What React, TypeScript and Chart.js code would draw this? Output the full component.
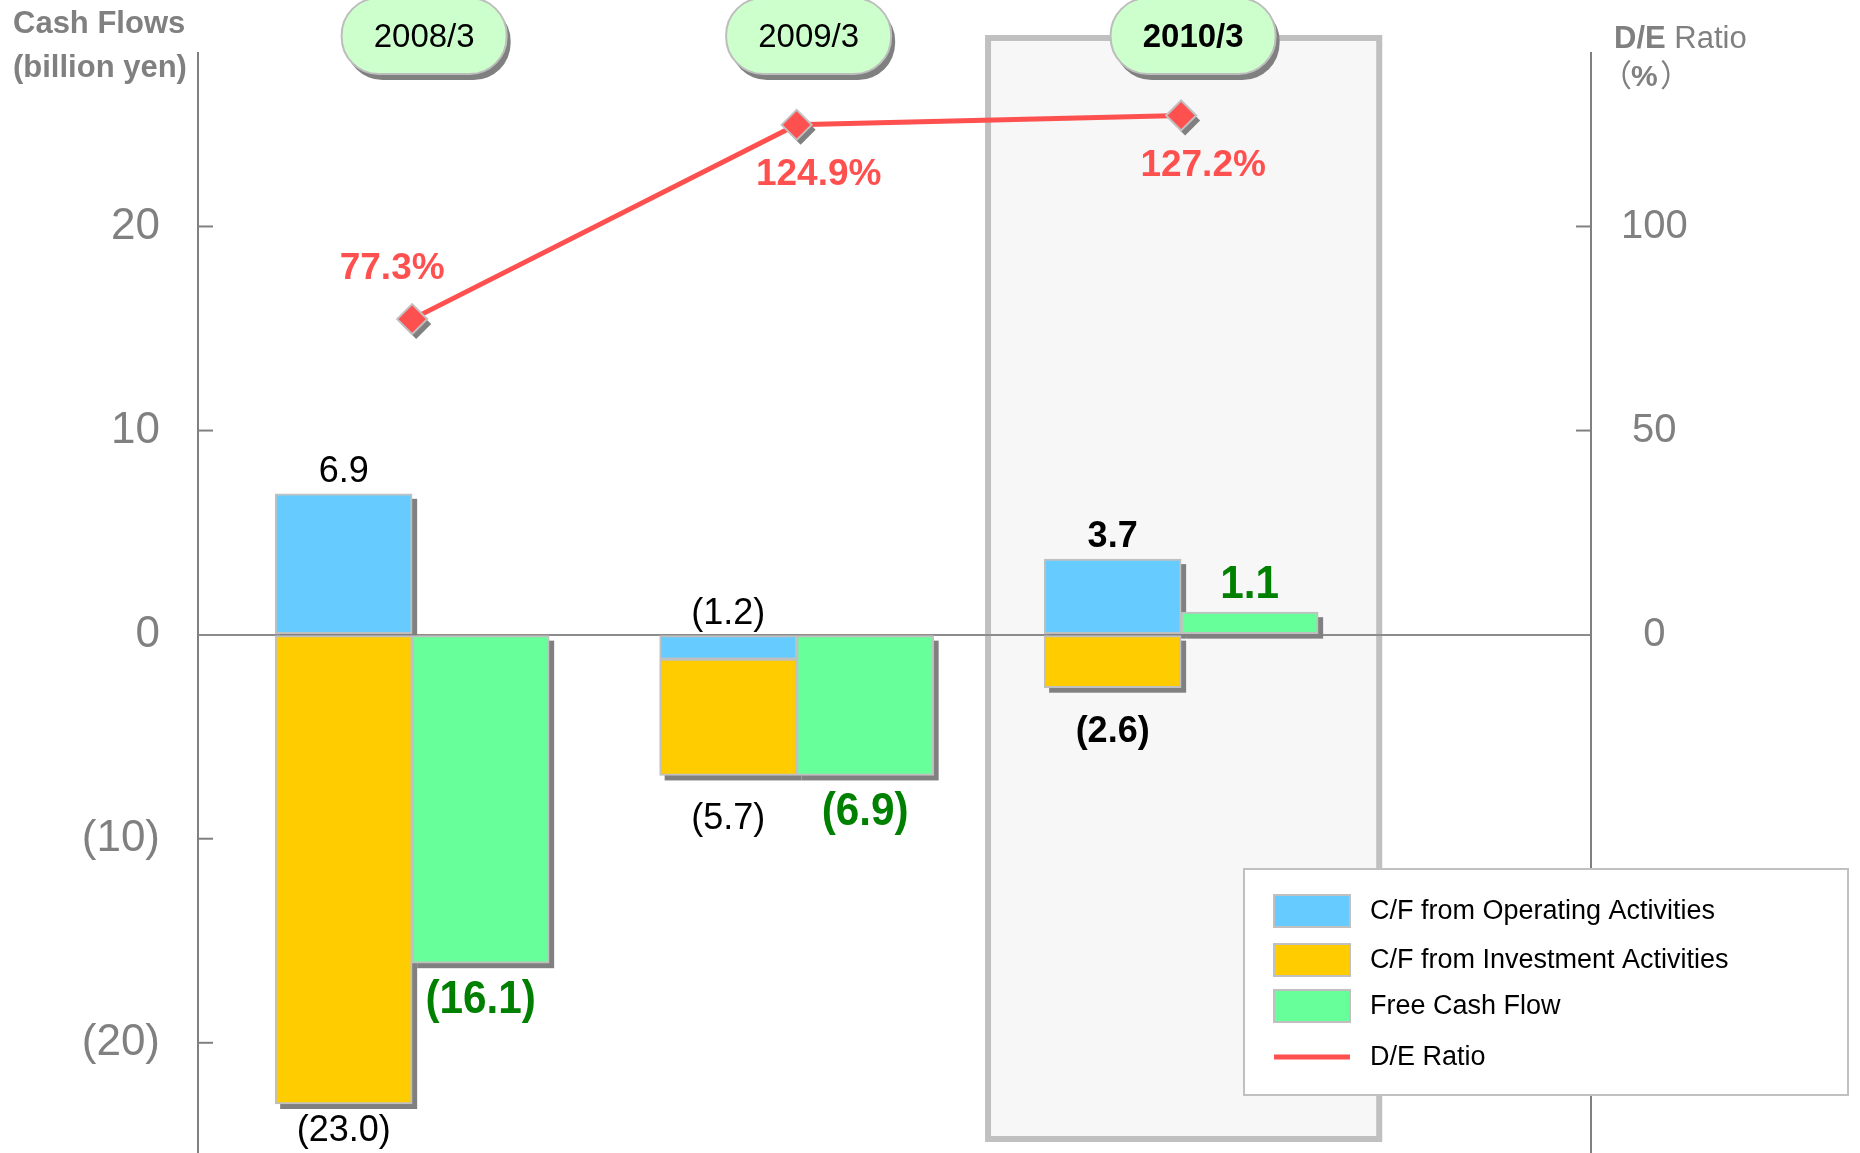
import { useEffect, useRef } from 'react';
import { Chart, registerables } from 'chart.js';

Chart.register(...registerables);

// ---- data -------------------------------------------------------------
const FISCAL_YEARS = ['2008/3', '2009/3', '2010/3'];
const OPERATING_CF = [6.9, -1.2, 3.7];
const INVESTMENT_CF = [-23.0, -5.7, -2.6];
const FREE_CF = [-16.1, -6.9, 1.1];
const DE_RATIO = [77.3, 124.9, 127.2];

const CF_TICKS = [-20, -10, 0, 10, 20];
const DE_TICKS = [0, 50, 100];

const SERIES_NAMES = [
  'C/F from Operating Activities',
  'C/F from Investment Activities',
  'Free Cash Flow',
  'D/E Ratio',
];

// the latest fiscal year is framed and set in bold
const HIGHLIGHT_INDEX = 2;

// ---- layout / style ---------------------------------------------------
const W = 1860;
const H = 1153;
const FONT = "'Liberation Sans', Arial, Helvetica, sans-serif";
const CJK_FONT = "'Noto Sans CJK JP', 'Noto Sans CJK SC', sans-serif";
const GRAY = '#808080';
const LIGHT_GRAY = '#C0C0C0';
const SHADOW = '#808080';
const COLORS = {
  operating: '#66CCFF',
  investment: '#FFCC00',
  free: '#66FF99',
  de: '#FF5050',
  freeText: '#008000',
};

const CF_MIN = -25.4;
const CF_MAX = 28.5;
const DE_MIN = CF_MIN * 5;
const DE_MAX = CF_MAX * 5;
const X_MIN = -0.557;
const X_MAX = 3.066;

const fmtCF = (v: number, digits = 1) =>
  v < 0 ? `(${Math.abs(v).toFixed(digits)})` : v.toFixed(digits);

function diamondPath(ctx: CanvasRenderingContext2D, x: number, y: number, r: number) {
  ctx.beginPath();
  ctx.moveTo(x, y - r);
  ctx.lineTo(x + r, y);
  ctx.lineTo(x, y + r);
  ctx.lineTo(x - r, y);
  ctx.closePath();
}

function pillPath(ctx: CanvasRenderingContext2D, x: number, y: number, w: number, h: number, r: number) {
  ctx.beginPath();
  ctx.moveTo(x + r, y);
  ctx.lineTo(x + w - r, y);
  ctx.arcTo(x + w, y, x + w, y + r, r);
  ctx.lineTo(x + w, y + h - r);
  ctx.arcTo(x + w, y + h, x + w - r, y + h, r);
  ctx.lineTo(x + r, y + h);
  ctx.arcTo(x, y + h, x, y + h - r, r);
  ctx.lineTo(x, y + r);
  ctx.arcTo(x, y, x + r, y, r);
  ctx.closePath();
}

function barBox(el: any) {
  const { x, y, base, width } = el.getProps(['x', 'y', 'base', 'width'], true);
  return {
    cx: x,
    left: x - width / 2,
    width,
    top: Math.min(y, base),
    bottom: Math.max(y, base),
  };
}

function squeezedText(ctx: CanvasRenderingContext2D, text: string, x: number, y: number, sx: number) {
  ctx.save();
  ctx.translate(x, y);
  ctx.scale(sx, 1);
  ctx.fillText(text, 0, 0);
  ctx.restore();
}

const decorPlugin = {
  id: 'cashFlowDecor',
  beforeDraw(chart: any) {
    const { ctx } = chart;
    const xs = chart.scales.x;
    // frame around the latest fiscal year
    const left = xs.getPixelForValue(HIGHLIGHT_INDEX - 0.51);
    const right = xs.getPixelForValue(HIGHLIGHT_INDEX + 0.523);
    ctx.save();
    ctx.fillStyle = '#F7F7F7';
    ctx.fillRect(left, 35, right - left, 1107);
    ctx.strokeStyle = LIGHT_GRAY;
    ctx.lineWidth = 6;
    ctx.strokeRect(left + 3, 38, right - left - 6, 1101);
    ctx.restore();
  },
  beforeDatasetsDraw(chart: any) {
    const { ctx } = chart;
    ctx.save();
    ctx.fillStyle = SHADOW;
    // drop shadows for every bar
    for (let d = 0; d < 3; d++) {
      chart.getDatasetMeta(d).data.forEach((el: any) => {
        const b = barBox(el);
        ctx.fillRect(b.left + 5, b.top + 5, b.width, b.bottom - b.top);
      });
    }
    // drop shadows for the ratio markers
    chart.getDatasetMeta(3).data.forEach((pt: any) => {
      const { x, y } = pt.getProps(['x', 'y'], true);
      diamondPath(ctx, x + 4, y + 5, 15);
      ctx.fill();
    });
    ctx.restore();
  },
  afterDraw(chart: any) {
    const { ctx, chartArea } = chart;
    const xs = chart.scales.x;
    const yl = chart.scales.y;
    const yr = chart.scales.y2;
    ctx.save();

    // inward tick marks on both value axes
    ctx.strokeStyle = GRAY;
    ctx.lineWidth = 2;
    yl.ticks.forEach((t: any) => {
      if (t.value === 0) return;
      const py = yl.getPixelForValue(t.value);
      ctx.beginPath();
      ctx.moveTo(chartArea.left, py);
      ctx.lineTo(chartArea.left + 15, py);
      ctx.stroke();
    });
    yr.ticks.forEach((t: any) => {
      if (t.value === 0) return;
      const py = yr.getPixelForValue(t.value);
      ctx.beginPath();
      ctx.moveTo(chartArea.right - 15, py);
      ctx.lineTo(chartArea.right, py);
      ctx.stroke();
    });

    // bar value labels
    ctx.textAlign = 'center';
    ctx.textBaseline = 'alphabetic';
    const opMeta = chart.getDatasetMeta(0);
    const invMeta = chart.getDatasetMeta(1);
    const freeMeta = chart.getDatasetMeta(2);
    FISCAL_YEARS.forEach((_, i) => {
      const weight = i === HIGHLIGHT_INDEX ? 'bold ' : '';
      ctx.fillStyle = '#000';
      ctx.font = `${weight}36px ${FONT}`;
      const op = barBox(opMeta.data[i]);
      ctx.fillText(fmtCF(OPERATING_CF[i]), op.cx, op.top - 12);
      const inv = barBox(invMeta.data[i]);
      // keep the lowest label inside the canvas
      ctx.fillText(fmtCF(INVESTMENT_CF[i]), inv.cx, Math.min(inv.bottom + 54, H - 12));

      const fr = barBox(freeMeta.data[i]);
      ctx.fillStyle = COLORS.freeText;
      ctx.font = `bold 46px ${FONT}`;
      const fy = FREE_CF[i] >= 0 ? fr.top - 14 : fr.bottom + 50;
      squeezedText(ctx, fmtCF(FREE_CF[i]), fr.cx, fy, 0.92);
    });

    // D/E ratio labels: the first sits above the rising line, the others below
    ctx.fillStyle = COLORS.de;
    ctx.font = `bold 37px ${FONT}`;
    ctx.textBaseline = 'middle';
    chart.getDatasetMeta(3).data.forEach((pt: any, i: number) => {
      const { x, y } = pt.getProps(['x', 'y'], true);
      const above = i === 0;
      ctx.fillText(`${DE_RATIO[i].toFixed(1)}%`, x + (above ? -20 : 22), y + (above ? -50 : 50));
    });

    // fiscal-year pills along the top
    FISCAL_YEARS.forEach((label, i) => {
      const cx = xs.getPixelForValue(i) + 12;
      const w = 165;
      const h = 76;
      const x0 = cx - w / 2;
      const y0 = -2;
      ctx.fillStyle = SHADOW;
      pillPath(ctx, x0 + 4, y0 + 6, w, h, 37);
      ctx.fill();
      ctx.fillStyle = '#CCFFCC';
      pillPath(ctx, x0, y0, w, h, 37);
      ctx.fill();
      ctx.strokeStyle = '#BDBDBD';
      ctx.lineWidth = 2;
      ctx.stroke();
      ctx.fillStyle = '#000';
      ctx.font = `${i === HIGHLIGHT_INDEX ? 'bold ' : ''}33px ${FONT}`;
      ctx.textAlign = 'center';
      ctx.textBaseline = 'middle';
      ctx.fillText(label, cx, 38);
    });

    // axis titles
    ctx.fillStyle = GRAY;
    ctx.textAlign = 'left';
    ctx.textBaseline = 'alphabetic';
    ctx.font = `bold 31px ${FONT}`;
    ctx.fillText('Cash Flows', 13, 33);
    ctx.fillText('(billion yen)', 13, 77);

    ctx.font = `bold 31px ${FONT}`;
    ctx.fillText('D/E', 1614, 48);
    const deW = ctx.measureText('D/E').width;
    ctx.font = `31px ${FONT}`;
    ctx.fillText(' Ratio', 1614 + deW, 48);
    ctx.font = `31px ${CJK_FONT}`;
    ctx.textAlign = 'right';
    ctx.fillText('（', 1632, 86);
    ctx.textAlign = 'left';
    ctx.font = `bold 30px ${FONT}`;
    ctx.fillText('%', 1631, 86);
    ctx.font = `31px ${CJK_FONT}`;
    ctx.fillText('）', 1660, 86);

    // legend
    const lx = 1244;
    const ly = 869;
    ctx.fillStyle = '#FFFFFF';
    ctx.fillRect(lx, ly, 604, 226);
    ctx.strokeStyle = LIGHT_GRAY;
    ctx.lineWidth = 2;
    ctx.strokeRect(lx, ly, 604, 226);
    const rows = [911, 960, 1006, 1057];
    chart.data.datasets.forEach((ds: any, i: number) => {
      const cy = rows[i];
      if (ds.type === 'line') {
        ctx.strokeStyle = ds.borderColor;
        ctx.lineWidth = 5;
        ctx.beginPath();
        ctx.moveTo(1274, cy);
        ctx.lineTo(1350, cy);
        ctx.stroke();
      } else {
        ctx.fillStyle = ds.backgroundColor;
        ctx.fillRect(1274, cy - 16, 76, 32);
        ctx.strokeStyle = LIGHT_GRAY;
        ctx.lineWidth = 2;
        ctx.strokeRect(1274, cy - 16, 76, 32);
      }
      ctx.fillStyle = '#000';
      ctx.font = `27px ${FONT}`;
      ctx.textAlign = 'left';
      ctx.textBaseline = 'middle';
      ctx.fillText(ds.label, 1370, cy + 1);
    });

    ctx.restore();
  },
};

export default function App() {
  const canvasRef = useRef<HTMLCanvasElement>(null);

  useEffect(() => {
    const canvas = canvasRef.current;
    if (!canvas) return;
    Chart.defaults.font.family = FONT;

    const barCommon = {
      borderColor: LIGHT_GRAY,
      borderWidth: 2,
      borderSkipped: false,
      barThickness: 137,
      order: 1,
      xAxisID: 'x',
      yAxisID: 'y',
    };

    const chart = new Chart(canvas, {
      type: 'bar',
      data: {
        datasets: [
          {
            ...barCommon,
            type: 'bar',
            label: SERIES_NAMES[0],
            stack: 'cf',
            backgroundColor: COLORS.operating,
            data: OPERATING_CF.map((v, i) => ({ x: i, y: v })),
          },
          {
            ...barCommon,
            type: 'bar',
            label: SERIES_NAMES[1],
            stack: 'cf',
            backgroundColor: COLORS.investment,
            data: INVESTMENT_CF.map((v, i) => ({ x: i, y: v })),
          },
          {
            ...barCommon,
            type: 'bar',
            label: SERIES_NAMES[2],
            stack: 'fcf',
            backgroundColor: COLORS.free,
            data: FREE_CF.map((v, i) => ({ x: i, y: v })),
          },
          {
            type: 'line',
            label: SERIES_NAMES[3],
            xAxisID: 'x',
            yAxisID: 'y2',
            order: 0,
            borderColor: COLORS.de,
            backgroundColor: COLORS.de,
            borderWidth: 5,
            tension: 0,
            pointStyle: 'rectRot',
            pointRadius: 15,
            pointBackgroundColor: COLORS.de,
            pointBorderColor: LIGHT_GRAY,
            pointBorderWidth: 2,
            data: DE_RATIO.map((v, i) => ({ x: i, y: v })),
          },
        ] as any,
      },
      options: {
        responsive: false,
        animation: false,
        events: [],
        layout: { autoPadding: false, padding: { top: 53, left: 0, right: 0, bottom: 0 } },
        plugins: {
          legend: { display: false },
          tooltip: { enabled: false },
        },
        scales: {
          x: {
            type: 'linear',
            display: false,
            min: X_MIN,
            max: X_MAX,
            offset: false,
          },
          y: {
            type: 'linear',
            position: 'left',
            stacked: true,
            min: CF_MIN,
            max: CF_MAX,
            afterFit: (s: any) => {
              s.width = 198;
              s.paddingTop = 0;
              s.paddingBottom = 0;
            },
            afterBuildTicks: (s: any) => {
              s.ticks = CF_TICKS.map((v) => ({ value: v }));
            },
            ticks: {
              callback: (v: any) => fmtCF(Number(v), 0),
              color: GRAY,
              font: { size: 44, family: FONT },
              padding: 38,
              crossAlign: 'near',
            },
            grid: {
              drawTicks: false,
              lineWidth: 2,
              color: (c: any) => (c.tick && c.tick.value === 0 ? '#8C8C8C' : 'rgba(0,0,0,0)'),
            },
            border: { display: true, color: GRAY, width: 2 },
          },
          y2: {
            type: 'linear',
            position: 'right',
            min: DE_MIN,
            max: DE_MAX,
            afterFit: (s: any) => {
              s.width = W - 1591;
              s.paddingTop = 0;
              s.paddingBottom = 0;
            },
            afterBuildTicks: (s: any) => {
              s.ticks = DE_TICKS.map((v) => ({ value: v }));
            },
            ticks: {
              callback: (v: any) => String(v),
              color: GRAY,
              font: { size: 40, family: FONT },
              padding: 30,
              crossAlign: 'center',
            },
            grid: { display: false, drawTicks: false },
            border: { display: true, color: GRAY, width: 2 },
          },
        },
      } as any,
      plugins: [decorPlugin],
    });

    return () => chart.destroy();
  }, []);

  return (
    <div style={{ position: 'absolute', left: 0, top: 0, width: W, height: H, background: '#FFFFFF' }}>
      <canvas ref={canvasRef} width={W} height={H} style={{ display: 'block', width: W, height: H }} />
    </div>
  );
}
